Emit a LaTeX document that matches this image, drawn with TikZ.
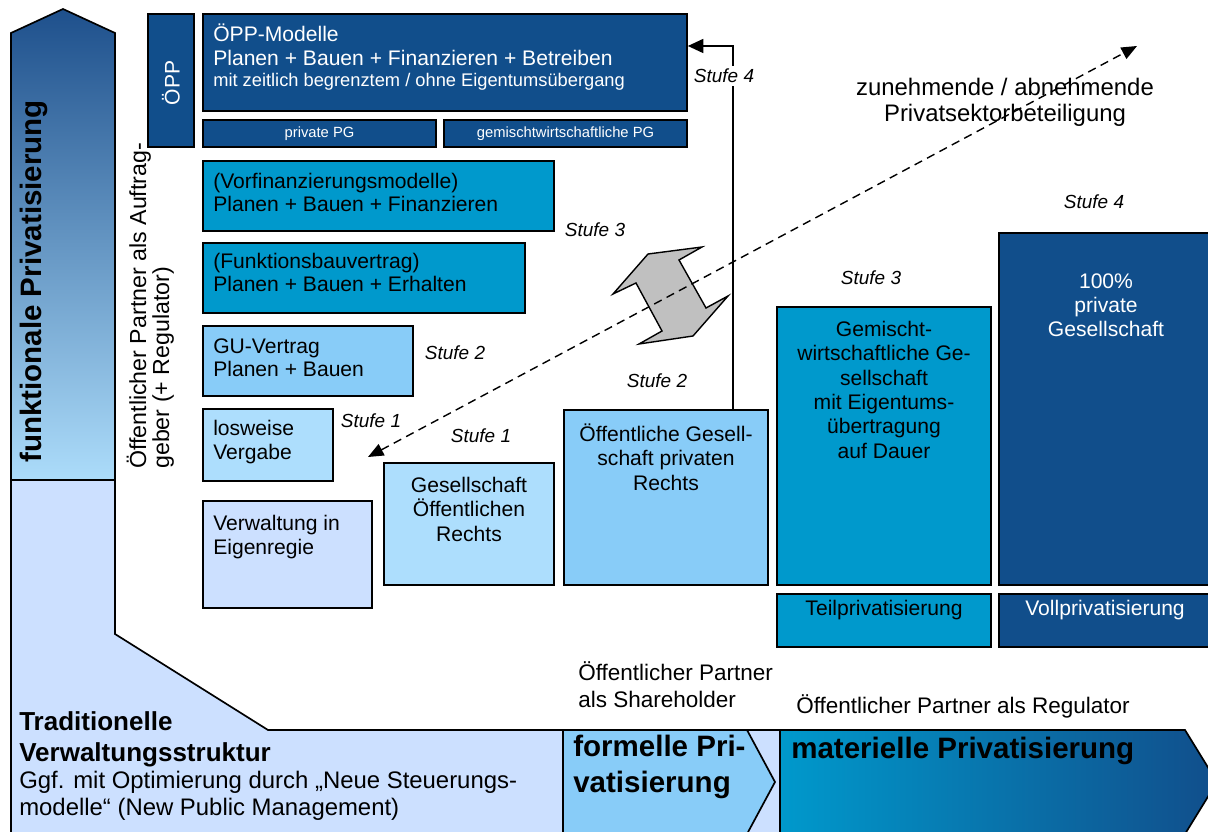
\documentclass[tikz,border=0pt]{standalone}
\usepackage{fontspec}
\setmainfont{Liberation Sans}
\usetikzlibrary{arrows.meta,fit}
\definecolor{oppblue}{RGB}{17,78,139}
\definecolor{midblue}{RGB}{0,153,204}
\definecolor{skyblue}{RGB}{136,204,248}
\definecolor{paleblue}{RGB}{173,222,253}
\definecolor{bgblue}{RGB}{204,224,255}
\definecolor{navytop}{RGB}{30,80,140}
\definecolor{skybottom}{RGB}{172,220,250}
\definecolor{shadegray}{RGB}{192,192,192}
\begin{document}
\begin{tikzpicture}[x=0.025cm, y=-0.025cm,
  every node/.style={inner sep=0pt},
  frame/.style={draw=black, line width=1.2pt},
  boxtext/.style={font=\fontsize{15}{17}\selectfont, align=left, anchor=base west},
  midtext/.style={font=\fontsize{15}{17.3}\selectfont, align=center, anchor=base},
  stufe/.style={font=\fontsize{13.5}{16}\selectfont\itshape, anchor=base},
  bigbold/.style={font=\fontsize{21}{25}\selectfont\bfseries, align=left, anchor=base west},
  partner/.style={font=\fontsize{16}{18.5}\selectfont, align=left, anchor=base west},
  arr/.style={line width=1pt, -{Triangle[length=11pt,width=10pt]}},
  dasharr/.style={line width=1pt, dash pattern=on 6pt off 4pt,
    {Triangle[length=11pt,width=9pt]}-{Triangle[length=11pt,width=9pt]}}]
\useasboundingbox (0,0) rectangle (1208,832);

\draw[frame, fill=bgblue] (11,480) -- (115,480) -- (115,634) -- (268,730) -- (780,730) -- (780,845) -- (11,845) -- cycle;
\draw[frame, top color=navytop, bottom color=skybottom] (11,480) -- (11,33) -- (63,9) -- (115,33) -- (115,480) -- cycle;
\draw[frame, fill=skyblue] (563,730) -- (747,730) -- (775,782) -- (747,834) -- (563,834) -- cycle;
\draw[frame, left color=midblue, right color=oppblue] (780,730) -- (1185,730) -- (1217,782) -- (1185,834) -- (780,834) -- cycle;

\begin{scope}[every node/.style={frame, inner sep=0pt}]
  \node[fill=oppblue, fit={(148,14) (194,147)}] (oeppV) {};
  \node[fill=oppblue, fit={(203,14) (687,111)}] (oepp) {};
  \node[fill=oppblue, fit={(203,120) (436,147)}] (privpg) {};
  \node[fill=oppblue, fit={(444,120) (687,147)}] (gemipg) {};
  \node[fill=midblue, fit={(203,161) (554,231)}] (vorfin) {};
  \node[fill=midblue, fit={(203,243) (525,313)}] (funkbau) {};
  \node[fill=skyblue, fit={(203,326) (413,396)}] (guv) {};
  \node[fill=paleblue, fit={(203,409) (333,481)}] (losw) {};
  \node[fill=bgblue, fit={(203,501) (372,608)}] (eigen) {};
  \node[fill=paleblue, fit={(384,463) (554,585)}] (goer) {};
  \node[fill=skyblue, fit={(564,410) (768,585)}] (ogpr) {};
  \node[fill=midblue, fit={(777,307) (991,585)}] (gemges) {};
  \node[fill=oppblue, fit={(999,233) (1218,585)}] (privges) {};
  \node[fill=midblue, fit={(777,594) (991,647)}] (teil) {};
  \node[fill=oppblue, fit={(999,594) (1218,647)}] (voll) {};
\end{scope}

\node[boxtext, text=white] (oeppT) at (213,87) {ÖPP-Modelle\\Planen + Bauen + Finanzieren + Betreiben\\[-2pt]{\fontsize{13}{14}\selectfont mit zeitlich begrenztem / ohne Eigentumsübergang}};
\node[font=\fontsize{15}{17}\selectfont, text=white, rotate=90] (oeppVT) at (171,83) {ÖPP};
\node[font=\fontsize{10.5}{12}\selectfont, text=white] (privpgT) at (privpg) {private PG};
\node[font=\fontsize{10.5}{12}\selectfont, text=white] (gemipgT) at (gemipg) {gemischtwirtschaftliche PG};
\node[boxtext] (vorfinT) at (213,212) {(Vorfinanzierungsmodelle)\\Planen + Bauen + Finanzieren};
\node[boxtext] (funkbauT) at (213,292) {(Funktionsbauvertrag)\\Planen + Bauen + Erhalten};
\node[boxtext] (guvT) at (213,377) {GU-Vertrag\\Planen + Bauen};
\node[boxtext] (loswT) at (213,459) {losweise\\Vergabe};
\node[boxtext] (eigenT) at (213,554) {Verwaltung in\\Eigenregie};
\node[midtext] (goerT) at (469,541) {Gesellschaft\\Öffentlichen\\Rechts};
\node[midtext] (ogprT) at (666,490) {Öffentliche Gesell-\\schaft privaten\\Rechts};
\node[midtext] (gemgesT) at (884,458) {Gemischt-\\wirtschaftliche Ge-\\sellschaft\\mit Eigentums-\\übertragung\\auf Dauer};
\node[midtext, text=white] (privgesT) at (1106,337) {100\%\\private\\Gesellschaft};
\node[midtext] (teilT) at (884,615) {Teilprivatisierung};
\node[midtext, text=white] (vollT) at (1105,615) {Vollprivatisierung};

\draw[fill=shadegray, line width=1pt] (648,254) -- (702,247) -- (679,260) -- (706,308) -- (728,296) -- (693,336) -- (639,344) -- (662,331) -- (636,283) -- (613,294) -- cycle;

\coordinate (lo) at (368,457);
\coordinate (hi) at (1137,46);
\coordinate (s4) at (733,46);
\draw[dasharr] (lo) -- (hi);
\draw[arr] (ogpr.north -| s4) |- (oepp.east |- s4);

\node[stufe, fill=white, inner sep=2pt] (st4a) at (724,83) {Stufe 4};
\node[stufe] (st3a) at (595,237) {Stufe 3};
\node[stufe] (st2a) at (455,360) {Stufe 2};
\node[stufe] (st1a) at (371,428) {Stufe 1};
\node[stufe] (st1b) at (481,443) {Stufe 1};
\node[stufe] (st2b) at (657,388) {Stufe 2};
\node[stufe] (st3b) at (871,285) {Stufe 3};
\node[stufe] (st4b) at (1094,209) {Stufe 4};

\node[font=\fontsize{17}{19}\selectfont, align=center, anchor=base] (zunT) at (1005,122) {zunehmende / abnehmende\\Privatsektorbeteiligung};
\node[partner] (shareT) at (578,707) {Öffentlicher Partner\\als Shareholder};
\node[partner] (reguT) at (796,713) {Öffentlicher Partner als Regulator};
\node[partner, font=\fontsize{16.5}{16.3}\selectfont, rotate=90] (auftrT) at (169,469) {Öffentlicher Partner als Auftrag-\\geber (+ Regulator)};
\node[bigbold, rotate=90] (funkT) at (42,463) {funktionale Privatisierung};
\node[font=\fontsize{18.5}{22}\selectfont\bfseries, align=left, anchor=base west] (tradT) at (19,761) {Traditionelle\\Verwaltungsstruktur};
\node[font=\fontsize{17}{18.5}\selectfont, align=left, anchor=base west] (ggfT) at (19,815) {Ggf. mit Optimierung durch „Neue Steuerungs-\\modelle“ (New Public Management)};
\node[bigbold] (formT) at (573,792) {formelle Pri-\\vatisierung};
\node[bigbold] (matT) at (791,758) {materielle Privatisierung};
\end{tikzpicture}
\end{document}
